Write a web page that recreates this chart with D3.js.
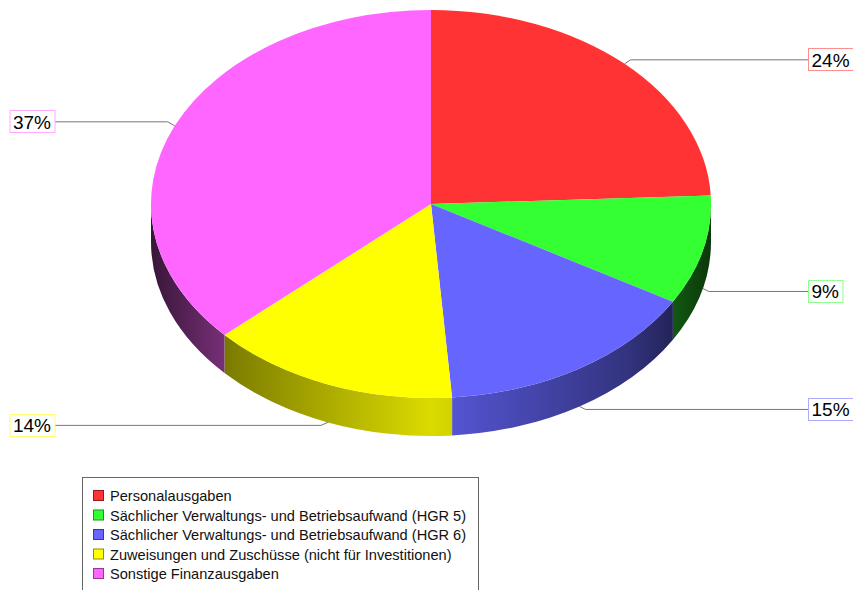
<!DOCTYPE html>
<html>
<head>
<meta charset="utf-8">
<script src="https://cdn.jsdelivr.net/npm/d3@7"></script>
<style>
  body { margin: 0; background: #fff; }
  text { font-family: Arial, "Liberation Sans", sans-serif; }
</style>
</head>
<body>
<div id="chart"></div>
<script>
// data (share of total, %)
const categories = [
  "Personalausgaben",
  "Sächlicher Verwaltungs- und Betriebsaufwand (HGR 5)",
  "Sächlicher Verwaltungs- und Betriebsaufwand (HGR 6)",
  "Zuweisungen und Zuschüsse (nicht für Investitionen)",
  "Sonstige Finanzausgaben"
];
const values = [24.3, 9.1, 15.4, 14.4, 36.8];
const colors = ["#ff3333", "#33ff33", "#6666ff", "#ffff00", "#ff66ff"];

const W = 853, H = 590;
const cx = 431, cy = 204, rx = 280, ry = 194, depth = 38;

let svg = d3.select("#chart").append("svg")
  .attr("width", W).attr("height", H);

let defs = svg.append("defs");

// angle measured clockwise from 12 o'clock
function pt(a, dy) {
  return [cx + rx * Math.sin(a), cy - ry * Math.cos(a) + (dy || 0)];
}

let pie = d3.pie().sort(null).value(d => d)(values);

// side gradients: dark at the rim ends, bright in front
const shade = [[0, 0.22], [0.15, 0.5], [0.5, 0.86], [0.85, 0.5], [1, 0.22]];
colors.forEach((c, i) => {
  let g = defs.append("linearGradient")
    .attr("id", "side" + i)
    .attr("gradientUnits", "userSpaceOnUse")
    .attr("x1", cx - rx).attr("x2", cx + rx).attr("y1", 0).attr("y2", 0);
  let base = d3.rgb(c);
  shade.forEach(s => {
    g.append("stop").attr("offset", s[0])
      .attr("stop-color", d3.rgb(base.r * s[1], base.g * s[1], base.b * s[1]).formatHex());
  });
});

// visible outer walls (front half: PI/2 .. 3PI/2)
let sides = svg.append("g");
pie.forEach((d, i) => {
  let a0 = Math.max(d.startAngle, Math.PI / 2);
  let a1 = Math.min(d.endAngle, Math.PI * 1.5);
  if (a1 <= a0) return;
  let p0 = pt(a0), p1 = pt(a1), q1 = pt(a1, depth), q0 = pt(a0, depth);
  let path = `M${p0}A${rx},${ry} 0 0 1 ${p1}L${q1}A${rx},${ry} 0 0 0 ${q0}Z`;
  sides.append("path").attr("d", path).attr("fill", `url(#side${i})`);
});

// top faces
let tops = svg.append("g");
pie.forEach((d, i) => {
  let p0 = pt(d.startAngle), p1 = pt(d.endAngle);
  let large = d.endAngle - d.startAngle > Math.PI ? 1 : 0;
  tops.append("path")
    .attr("d", `M${cx},${cy}L${p0}A${rx},${ry} 0 ${large} 1 ${p1}Z`)
    .attr("fill", colors[i]);
});

// labels with leader lines
let total = d3.sum(values);
let labels = svg.append("g");
pie.forEach((d, i) => {
  let mid = (d.startAngle + d.endAngle) / 2;
  let lower = Math.cos(mid) < 0;
  let right = Math.sin(mid) > 0;
  let a = pt(mid, lower ? depth : 0);
  let ey = a[1] + (lower ? 3 : -4);
  let ex = a[0] + (right ? 6 : -7);
  let boxX = right ? 808 : null;
  let txt = Math.round(values[i] / total * 100) + "%";

  let t = labels.append("text")
    .attr("font-size", 19)
    .attr("y", ey + 7)
    .text(txt);
  let tw = t.node().getComputedTextLength();
  let bw = tw + 7;
  if (!right) boxX = 54.5 - bw;
  t.attr("x", boxX + 3.5);

  labels.insert("path", "text")
    .attr("d", `M${a}L${ex},${ey}L${right ? boxX : boxX + bw},${ey}`)
    .attr("fill", "none").attr("stroke", "#777").attr("stroke-width", 1);
  labels.insert("rect", "text")
    .attr("x", boxX + 0.5).attr("y", Math.round(ey - 11.5) + 0.5)
    .attr("width", bw).attr("height", 22)
    .attr("fill", "#fff")
    .attr("stroke", d3.interpolateRgb(colors[i], "#fff")(0.45));
});

// legend
let legend = svg.append("g");
legend.append("rect")
  .attr("x", 82.5).attr("y", 477.5).attr("width", 396).attr("height", 140)
  .attr("fill", "#fff").attr("stroke", "#666");
categories.forEach((c, i) => {
  let y = 490.5 + i * 19.5;
  legend.append("rect")
    .attr("x", 93.5).attr("y", y).attr("width", 10).attr("height", 10)
    .attr("fill", colors[i])
    .attr("stroke", d3.rgb(colors[i]).darker(1.6));
  legend.append("text")
    .attr("x", 110).attr("y", y + 10.5)
    .attr("font-size", 14.6).attr("fill", "#111")
    .text(c);
});
</script>
</body>
</html>
